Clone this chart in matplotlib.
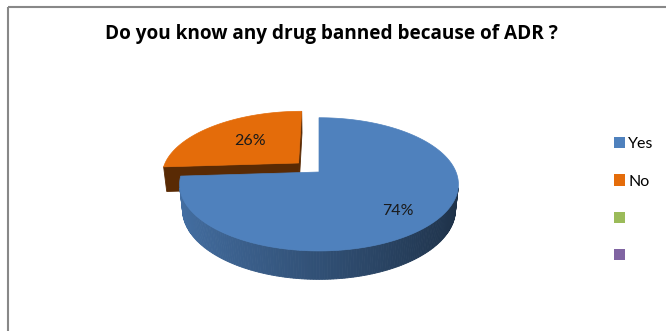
import numpy as np
import matplotlib.pyplot as plt
from matplotlib.patches import Polygon, Rectangle, Patch
from matplotlib.colors import to_rgb

plt.rcParams['font.family'] = ['Lato', 'DejaVu Sans']

# data
labels = ["Yes", "No"]
values = [74, 26]
pie_colors = ["#4F81BD", "#E46C0A"]
explode = [0.0, 0.21]
legend_labels = ["Yes", "No", "", ""]
legend_colors = ["#4F81BD", "#E46C0A", "#9BBB59", "#8064A2"]
title = "Do you know any drug banned because of ADR ?"

# 3d look of the pie (screen pixels, y down)
cx, cy = 319, 172
R = 137
el = np.radians(28)
c, s = np.cos(el), np.sin(el)
D = 5.4 * c
h = 0.21
cam = np.array([0.0, -D * c, D * s])


def proj(X, Y, z):
    depth = Y * c - z * s
    k = D / (D + depth)
    return cx + R * X * k, cy - R * (Y * s + z * c) * k


def shade(col, f):
    return tuple(np.clip(np.array(to_rgb(col)) * f, 0, 1))


def visible(normal, point):
    return np.dot(normal, cam - point) > 0


fig = plt.figure(figsize=(6.66, 3.31), dpi=100)
ax = fig.add_axes([0, 0, 1, 1])
ax.set_xlim(0, 666)
ax.set_ylim(331, 0)
ax.axis('off')

# chart border
ax.add_patch(Rectangle((8, 7), 700, 400, fill=False, edgecolor='#888888', lw=1.5))

total = sum(values)
bounds = np.concatenate([[0], np.cumsum(values)]) / total * 2 * np.pi
sides = []
tops = []
for i, v in enumerate(values):
    a, b = bounds[i], bounds[i + 1]
    mid = (a + b) / 2
    ox, oy = explode[i] * np.sin(mid), explode[i] * np.cos(mid)
    t = np.linspace(a, b, max(int(np.degrees(b - a)), 2))
    # outer wall, split in strips
    for t0, t1 in zip(t[:-1], t[1:]):
        tm = (t0 + t1) / 2
        n = np.array([np.sin(tm), np.cos(tm), 0])
        p = np.array([ox + np.sin(tm), oy + np.cos(tm), -h / 2])
        if not visible(n, p):
            continue
        pts = [proj(ox + np.sin(t0), oy + np.cos(t0), 0), proj(ox + np.sin(t1), oy + np.cos(t1), 0),
               proj(ox + np.sin(t1), oy + np.cos(t1), -h), proj(ox + np.sin(t0), oy + np.cos(t0), -h)]
        col = shade(pie_colors[i], 0.62 - 0.25 * np.sin(tm))
        sides.append((np.dot(p, [0, c, -s]), pts, col))
    # cut faces
    for ang, sgn in [(a, -1), (b, 1)]:
        n = sgn * np.array([np.cos(ang), -np.sin(ang), 0])
        p = np.array([ox + 0.5 * np.sin(ang), oy + 0.5 * np.cos(ang), -h / 2])
        if not visible(n, p):
            continue
        pts = [proj(ox, oy, 0), proj(ox + np.sin(ang), oy + np.cos(ang), 0),
               proj(ox + np.sin(ang), oy + np.cos(ang), -h), proj(ox, oy, -h)]
        sides.append((np.dot(p, [0, c, -s]), pts, shade(pie_colors[i], 0.39)))
    top = [proj(ox, oy, 0)] + [proj(ox + np.sin(tt), oy + np.cos(tt), 0) for tt in np.linspace(a, b, 200)]
    tops.append((top, pie_colors[i], ox, oy, mid))

for _, pts, col in sorted(sides, key=lambda q: -q[0]):
    ax.add_patch(Polygon(pts, closed=True, facecolor=col, edgecolor=col, lw=0.6))

label_r = [0.72, 0.55]
for i, (top, col, ox, oy, mid) in enumerate(tops):
    ax.add_patch(Polygon(top, closed=True, facecolor=col, edgecolor=col, lw=0.5))
    lx, ly = proj(ox + label_r[i] * np.sin(mid), oy + label_r[i] * np.cos(mid), 0)
    ax.text(lx, ly + (4 if i == 0 else 0), f"{values[i]}%", ha='center', va='center',
            fontsize=11.5, color='#1a1a1a')

ax.text(331, 34, title, ha='center', va='center', fontsize=13.7, fontweight='bold',
        family=['Open Sans', 'DejaVu Sans'])

handles = [Patch(facecolor=col, edgecolor='none') for col in legend_colors]
ax.legend(handles, legend_labels, loc='center left', bbox_to_anchor=(0.9, 0.395),
          frameon=False, fontsize=11.5, handlelength=0.7, handleheight=0.7,
          handletextpad=0.2, labelspacing=1.45)

fig.savefig("out.png", dpi=100)
